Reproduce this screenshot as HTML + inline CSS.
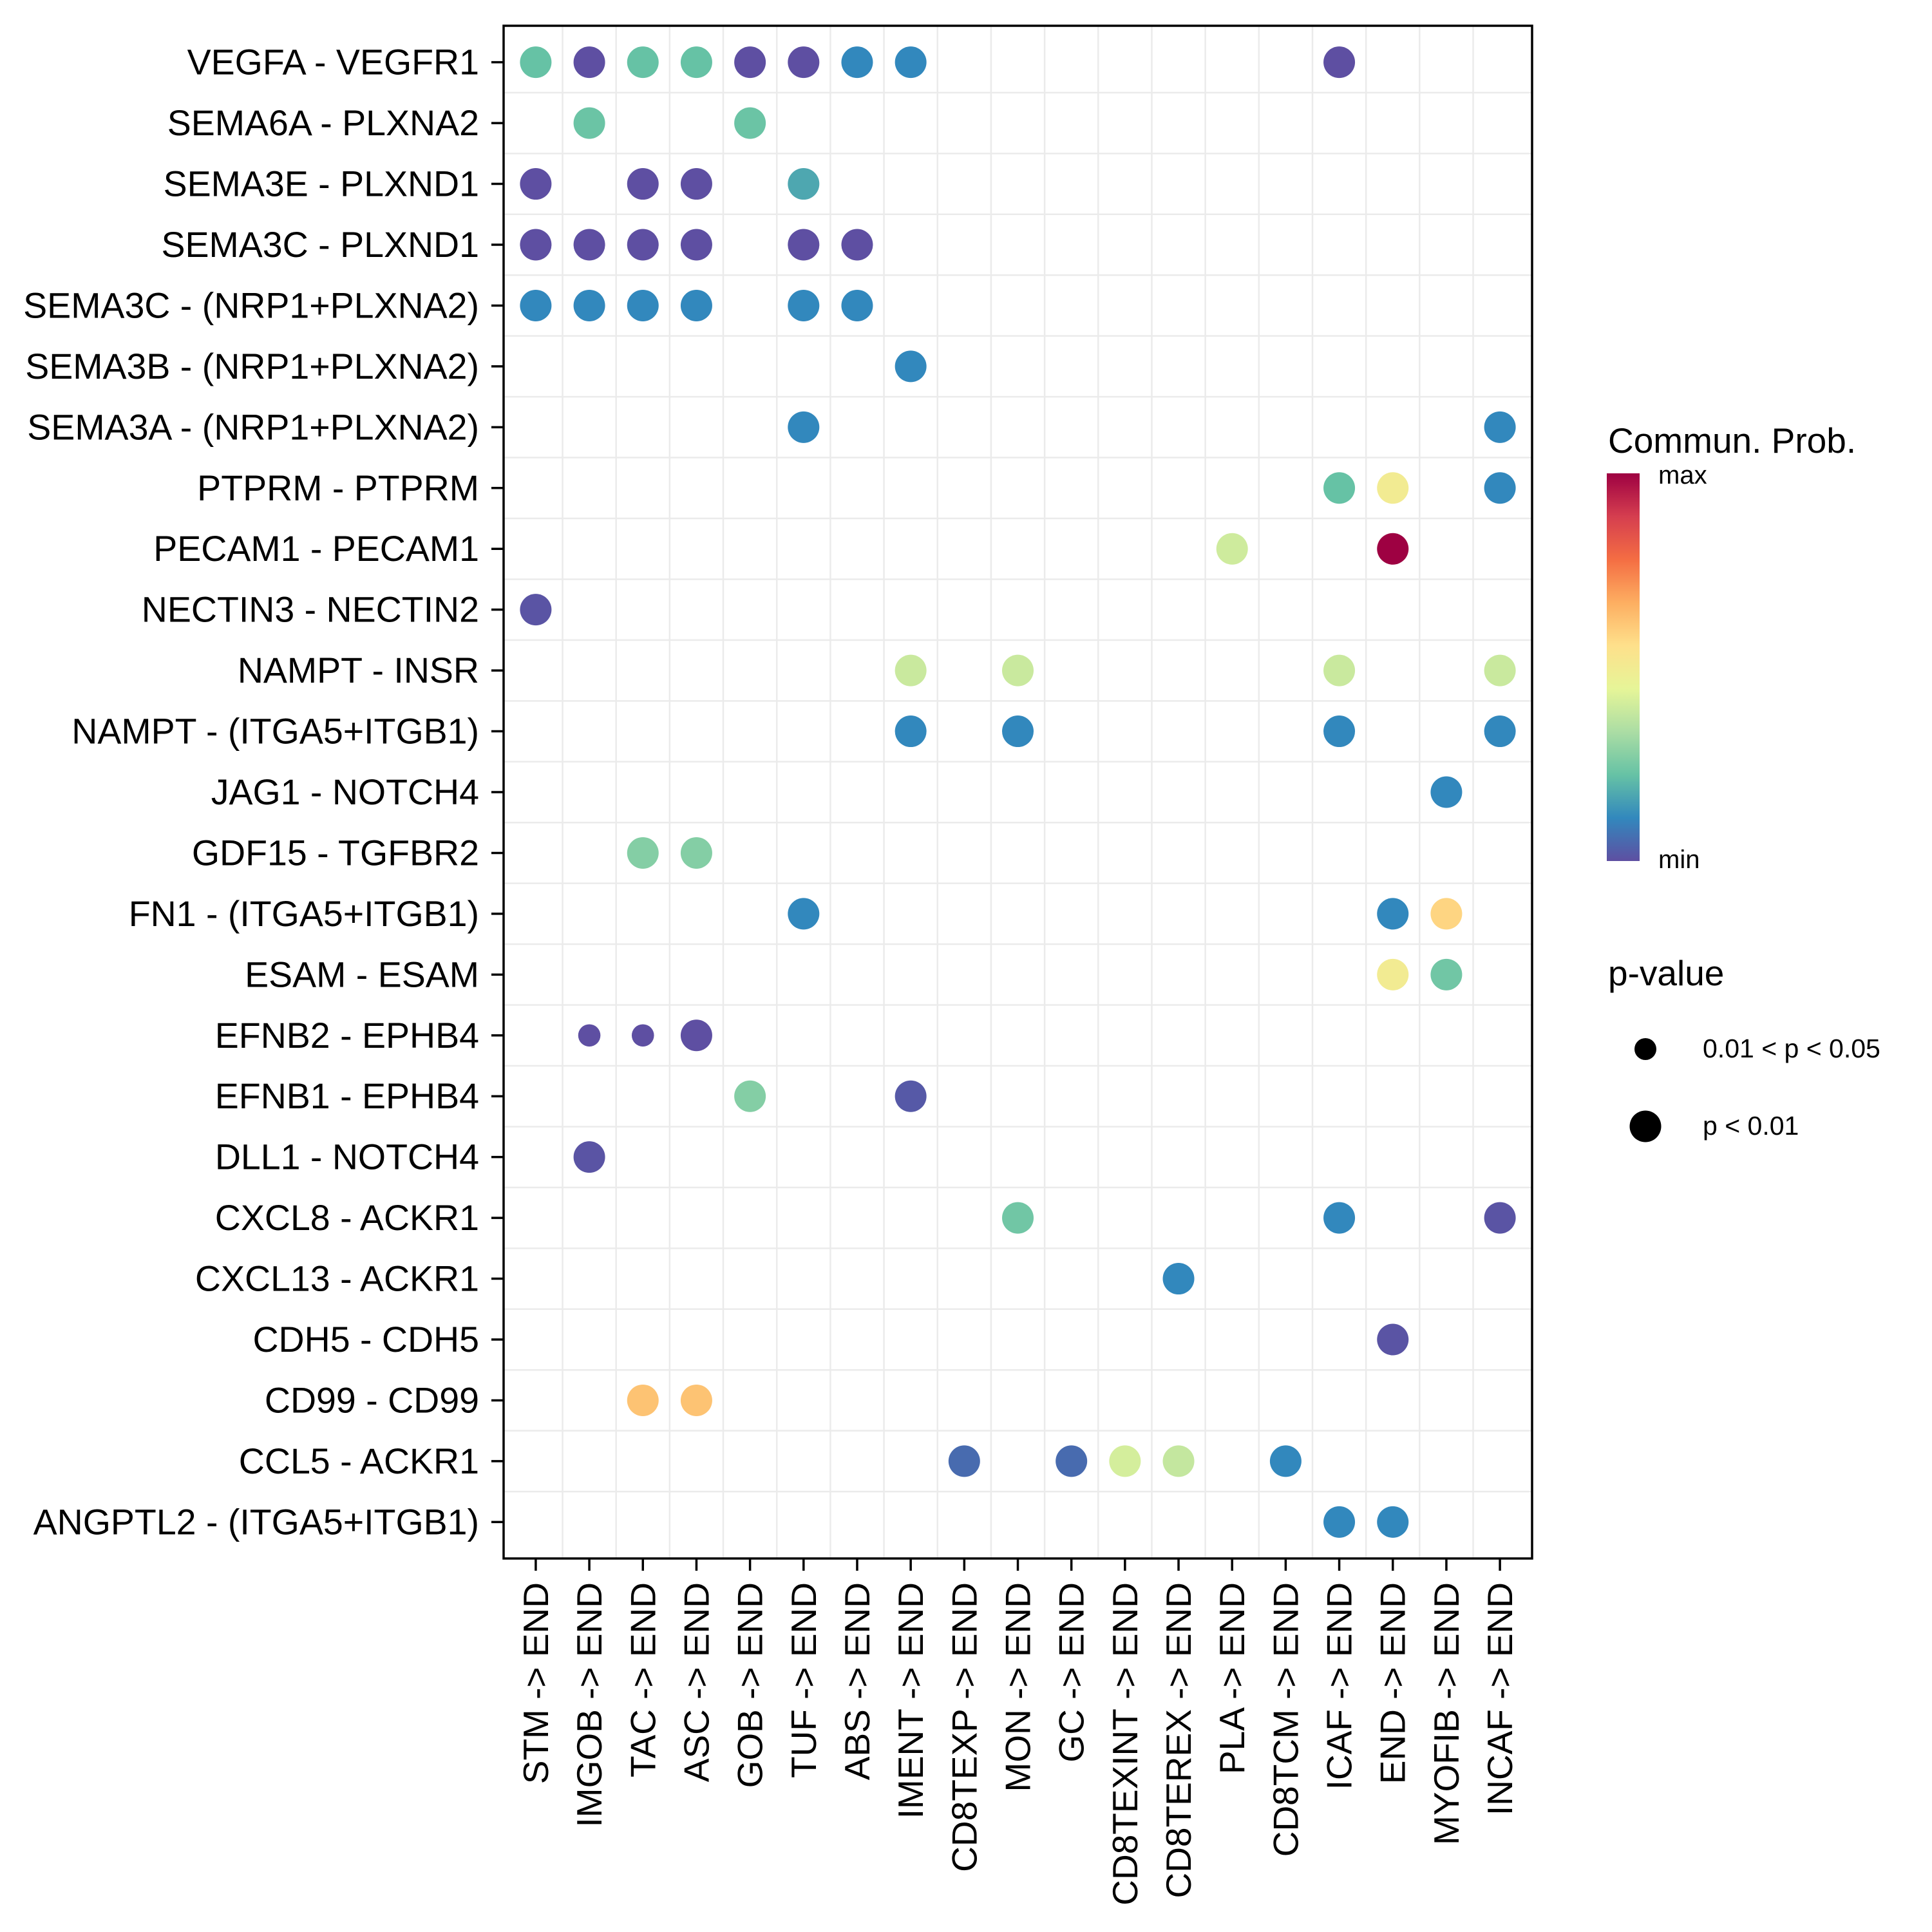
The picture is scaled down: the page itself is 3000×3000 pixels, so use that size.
<!DOCTYPE html>
<html><head><meta charset="utf-8">
<style>
html,body{margin:0;padding:0;background:#fff;}
svg{display:block;font-family:"Liberation Sans",Arial,sans-serif;}
</style></head>
<body>
<svg id="chart" xmlns="http://www.w3.org/2000/svg" width="3000" height="3000" viewBox="0 0 3000 3000">
  <defs>
    <linearGradient id="spectral" x1="0" y1="1" x2="0" y2="0">
      <stop offset="0" stop-color="#5E4FA2"/>
      <stop offset="0.111" stop-color="#3288BD"/>
      <stop offset="0.222" stop-color="#66C2A5"/>
      <stop offset="0.333" stop-color="#ABDDA4"/>
      <stop offset="0.444" stop-color="#E6F598"/>
      <stop offset="0.556" stop-color="#FEE08B"/>
      <stop offset="0.667" stop-color="#FDAE61"/>
      <stop offset="0.778" stop-color="#F46D43"/>
      <stop offset="0.889" stop-color="#D53E4F"/>
      <stop offset="1" stop-color="#9E0142"/>
    </linearGradient>
  </defs>
  <rect x="0" y="0" width="3000" height="3000" fill="#fff"/>
  <g id="grid"></g>
  <g id="dots"></g>
  <rect x="782" y="40" width="1597" height="2380" fill="none" stroke="#000" stroke-width="3.5"/>
  <g id="yaxis"></g>
  <g id="xaxis"></g>

  <g>
    <text x="2497" y="703" font-size="55">Commun. Prob.</text>
    <rect x="2495" y="735" width="51" height="602" fill="url(#spectral)"/>
    <text x="2575" y="751" font-size="40">max</text>
    <text x="2575" y="1348" font-size="40">min</text>
  </g>
  <g>
    <text x="2497" y="1530" font-size="55">p-value</text>
    <circle cx="2555" cy="1629" r="17" fill="#000"/>
    <text x="2644" y="1648" font-size="41" transform="translate(0,-6)">0.01 &lt; p &lt; 0.05</text>
    <circle cx="2555" cy="1749" r="24.5" fill="#000"/>
    <text x="2644" y="1762" font-size="41">p &lt; 0.01</text>
  </g>
</svg>
<script>
const yLabels = ["VEGFA - VEGFR1","SEMA6A - PLXNA2","SEMA3E - PLXND1","SEMA3C - PLXND1","SEMA3C - (NRP1+PLXNA2)","SEMA3B - (NRP1+PLXNA2)","SEMA3A - (NRP1+PLXNA2)","PTPRM - PTPRM","PECAM1 - PECAM1","NECTIN3 - NECTIN2","NAMPT - INSR","NAMPT - (ITGA5+ITGB1)","JAG1 - NOTCH4","GDF15 - TGFBR2","FN1 - (ITGA5+ITGB1)","ESAM - ESAM","EFNB2 - EPHB4","EFNB1 - EPHB4","DLL1 - NOTCH4","CXCL8 - ACKR1","CXCL13 - ACKR1","CDH5 - CDH5","CD99 - CD99","CCL5 - ACKR1","ANGPTL2 - (ITGA5+ITGB1)"];
const xLabels = ["STM -> END","IMGOB -> END","TAC -> END","ASC -> END","GOB -> END","TUF -> END","ABS -> END","IMENT -> END","CD8TEXP -> END","MON -> END","GC -> END","CD8TEXINT -> END","CD8TEREX -> END","PLA -> END","CD8TCM -> END","ICAF -> END","END -> END","MYOFIB -> END","INCAF -> END"];
// each dot: row index, column index, scaled commun. prob (0=min,1=max), significance (1 = p<0.01, 0 = 0.01<p<0.05)
const dotRow = [0,0,0,0,0,0,0,0,0, 1,1, 2,2,2,2, 3,3,3,3,3,3, 4,4,4,4,4,4, 5, 6,6, 7,7,7, 8,8, 9, 10,10,10,10, 11,11,11,11, 12, 13,13, 14,14,14, 15,15, 16,16,16, 17,17, 18, 19,19,19, 20, 21, 22,22, 23,23,23,23,23, 24,24];
const dotCol = [0,1,2,3,4,5,6,7,15, 1,4, 0,2,3,5, 0,1,2,3,5,6, 0,1,2,3,5,6, 7, 5,18, 15,16,18, 13,16, 0, 7,9,15,18, 7,9,15,18, 17, 2,3, 5,16,17, 16,17, 1,2,3, 4,7, 1, 9,15,18, 12, 16, 2,3, 8,10,11,12,14, 15,16];
const dotProb = [0.222,0,0.222,0.222,0,0,0.111,0.111,0, 0.23,0.23, 0,0,0,0.17, 0,0,0,0,0,0, 0.111,0.111,0.111,0.111,0.111,0.111, 0.111, 0.111,0.111, 0.222,0.5,0.111, 0.4,1, 0.01, 0.39,0.39,0.39,0.39, 0.111,0.111,0.111,0.111, 0.111, 0.27,0.27, 0.111,0.111,0.58, 0.5,0.24, 0,0,0, 0.27,0.02, 0.01, 0.24,0.111,0.01, 0.111, 0.01, 0.62,0.62, 0.055,0.055,0.41,0.38,0.111, 0.111,0.111];
const dotSig = [1,1,1,1,1,1,1,1,1, 1,1, 1,1,1,1, 1,1,1,1,1,1, 1,1,1,1,1,1, 1, 1,1, 1,1,1, 1,1, 1, 1,1,1,1, 1,1,1,1, 1, 1,1, 1,1,1, 1,1, 0,0,1, 1,1, 1, 1,1,1, 1, 1, 1,1, 1,1,1,1,1, 1,1];

const NS = "http://www.w3.org/2000/svg";
const PL = 782, PR = 2379, PT = 40, PB = 2420;
const xStep = (PR - PL) / (xLabels.length - 1 + 1.2);
const yStep = (PB - PT) / (yLabels.length - 1 + 1.2);
function xPos(i){ return PL + (0.6 + i) * xStep; }
function yPos(i){ return PT + (0.6 + i) * yStep; }
const stops = [[94,79,162],[50,136,189],[102,194,165],[171,221,164],[230,245,152],[254,224,139],[253,174,97],[244,109,67],[213,62,79],[158,1,66]];
function colorOf(v){
  v = Math.max(0, Math.min(1, v));
  const n = stops.length - 1;
  const t = v * n, i = Math.min(n - 1, Math.floor(t)), f = t - i;
  const a = stops[i], b = stops[i+1];
  return "rgb(" + a.map((c,k)=>Math.round(c + (b[k]-c)*f)).join(",") + ")";
}
function mk(tag, attrs, parent){
  const el = document.createElementNS(NS, tag);
  for (const k in attrs) el.setAttribute(k, attrs[k]);
  parent.appendChild(el);
  return el;
}
const grid = document.getElementById("grid");
for (let i = 0; i < xLabels.length - 1; i++) {
  const x = xPos(i + 0.5);
  const l = mk("line", {x1:x, x2:x, y1:PT, y2:PB, stroke:"#EBEBEB", "stroke-width":2.5}, grid);
  
  
}
for (let i = 0; i < yLabels.length - 1; i++) {
  const y = yPos(i + 0.5);
  const l = mk("line", {x1:PL, x2:PR, y1:y, y2:y, stroke:"#EBEBEB", "stroke-width":2.5}, grid);
  
  
}
const dots = document.getElementById("dots");
for (let k = 0; k < dotRow.length; k++) {
  const c = mk("circle", {cx:xPos(dotCol[k]), cy:yPos(dotRow[k]), r: dotSig[k] ? 24.5 : 17.3, fill: colorOf(dotProb[k])}, dots);
  
  
}
const yaxis = document.getElementById("yaxis");
yLabels.forEach((lab, i) => {
  const y = yPos(i);
  const t = mk("line", {x1:763, x2:782, y1:y, y2:y, stroke:"#000", "stroke-width":3.5}, yaxis);
  
  
  const tx = mk("text", {x:744, y:y + 19, "text-anchor":"end", "font-size":55.5, fill:"#000"}, yaxis);
  tx.textContent = lab;
  
  
});
const xaxis = document.getElementById("xaxis");
xLabels.forEach((lab, i) => {
  const x = xPos(i);
  const t = mk("line", {x1:x, x2:x, y1:2420, y2:2439, stroke:"#000", "stroke-width":3.5}, xaxis);
  
  
  const tx = mk("text", {x:0, y:0, "text-anchor":"end", "font-size":55, fill:"#000", transform:"translate(" + (x + 19) + ",2457) rotate(-90)"}, xaxis);
  tx.textContent = lab;
  
  
});
</script>
</body></html>
